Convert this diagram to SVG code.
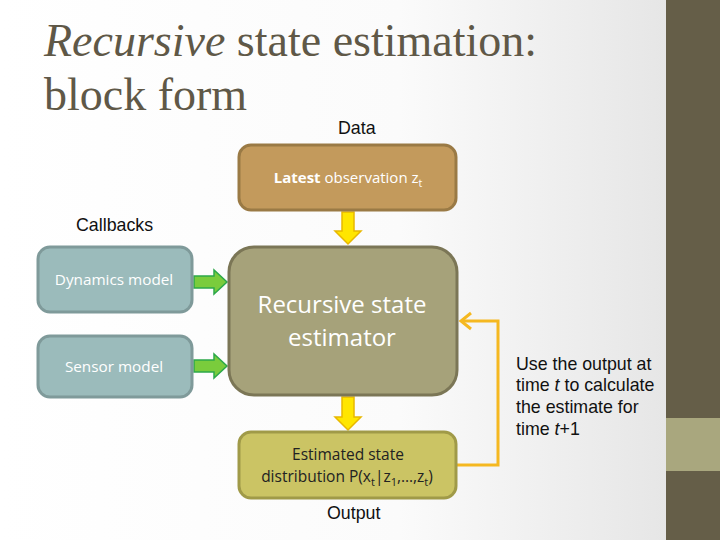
<svg xmlns="http://www.w3.org/2000/svg" width="720" height="540" viewBox="0 0 720 540">
<defs>
<linearGradient id="bg" x1="0" y1="0" x2="1" y2="0">
<stop offset="0" stop-color="#ffffff"/>
<stop offset="0.6" stop-color="#fbfbfb"/>
<stop offset="1" stop-color="#e6e6e6"/>
</linearGradient>
</defs>
<style>
.lbl{font-family:"Liberation Sans",Arial,sans-serif;font-size:17.8px;fill:#111}
.node{font-family:"Open Sans","DejaVu Sans",sans-serif;}
.title{font-family:"Liberation Serif","Times New Roman",serif;font-size:46px;fill:#5F5847}
.yarr{fill:#FFE600;stroke:#E8B800;stroke-width:1.5}
.garr{fill:#7ACC3C;stroke:#2DA84A;stroke-width:1.5}
.fb{fill:none;stroke:#F5B820;stroke-width:3}
</style>
<rect x="0" y="0" width="666" height="540" fill="url(#bg)"/>
<rect x="666" y="0" width="54" height="418" fill="#655E48"/>
<rect x="666" y="418" width="54" height="53" fill="#A9A77E"/>
<rect x="666" y="471" width="54" height="69" fill="#655E48"/>

<text class="title" x="44" y="56"><tspan font-style="italic">Recursive</tspan> state estimation:</text>
<text class="title" x="44" y="110">block form</text>
<text class="lbl" x="338" y="134">Data</text>
<text class="lbl" x="76" y="231">Callbacks</text>
<text class="lbl" x="327" y="519">Output</text>
<text class="lbl" x="516" y="370">Use the output at</text>
<text class="lbl" x="516" y="391">time <tspan font-style="italic">t</tspan> to calculate</text>
<text class="lbl" x="516" y="413">the estimate for</text>
<text class="lbl" x="516" y="435">time <tspan font-style="italic">t</tspan>+1</text>

<g id="connectors">
<path class="yarr" d="M342,212 H354 V231 H361 L348,244 L335,231 H342 Z"/>
<path class="yarr" d="M342,397 H354 V417 H361 L348,430 L335,417 H342 Z"/>
<path class="garr" d="M194,276 H214 V270 L227,282 L214,294 V288 H194 Z"/>
<path class="garr" d="M194,360 H214 V354 L227,366 L214,378 V372 H194 Z"/>
<path class="fb" d="M457,465 H498 V321 H461"/>
<path class="fb" d="M471,313 L461,321 L471,329"/>
</g>

<g id="obs">
<rect x="239" y="145" width="217" height="65" rx="12" fill="#C39A5C" stroke="#9A7A45" stroke-width="3"/>
<text class="node" x="348" y="183" text-anchor="middle" font-size="15" fill="#fff"><tspan font-weight="bold">Latest</tspan> observation z<tspan font-size="10.5" dy="4">t</tspan></text>
</g>
<g id="dyn">
<rect x="38" y="247" width="154" height="65" rx="12" fill="#9BBBBB" stroke="#7F9A9A" stroke-width="3"/>
<text class="node" x="114" y="285" text-anchor="middle" font-size="15.3" fill="#fff">Dynamics model</text>
</g>
<g id="sens">
<rect x="38" y="336" width="154" height="61" rx="12" fill="#9BBBBB" stroke="#7F9A9A" stroke-width="3"/>
<text class="node" x="114" y="372" text-anchor="middle" font-size="15.3" fill="#fff">Sensor model</text>
</g>
<g id="est">
<rect x="229" y="247" width="228" height="148" rx="25" fill="#A6A27A" stroke="#7B7656" stroke-width="3"/>
<text class="node" x="342" y="313" text-anchor="middle" font-size="24" fill="#fff">Recursive state</text>
<text class="node" x="342" y="346" text-anchor="middle" font-size="24" fill="#fff">estimator</text>
</g>
<g id="out">
<rect x="239" y="432" width="217" height="66" rx="12" fill="#CBC464" stroke="#A09A48" stroke-width="3"/>
<text class="node" x="348" y="460" text-anchor="middle" font-size="15.5" fill="#222">Estimated state</text>
<text class="node" x="347" y="482" text-anchor="middle" font-size="15.5" fill="#222">distribution P(x<tspan font-size="11" dy="4">t</tspan><tspan dy="-4">|z</tspan><tspan font-size="11" dy="4">1</tspan><tspan dy="-4">,…,z</tspan><tspan font-size="11" dy="4">t</tspan><tspan dy="-4">)</tspan></text>
</g>
</svg>
